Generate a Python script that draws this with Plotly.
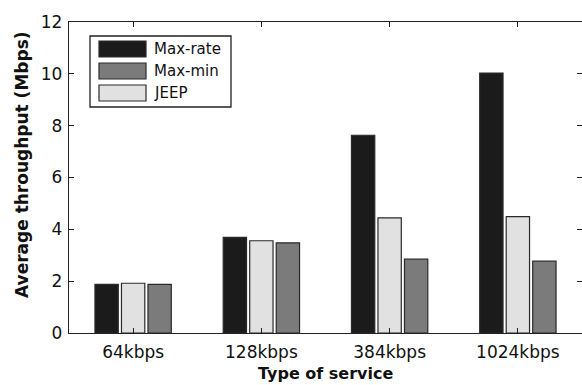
import plotly.graph_objects as go

# Average throughput per service type for each allocation scheme
services = ["64kbps", "128kbps", "384kbps", "1024kbps"]
max_rate = [1.88, 3.69, 7.63, 10.03]
jeep = [1.92, 3.56, 4.44, 4.49]
max_min = [1.88, 3.48, 2.85, 2.77]

y_ticks = [0, 2, 4, 6, 8, 10, 12]

W, H = 582, 385
ML, MR, MT, MB = 69, 0, 22, 52
FONT = "DejaVu Sans, Liberation Sans, Arial, sans-serif"
INK = "#111"

colors = {"Max-rate": "#1b1b1b", "Max-min": "#7b7b7b", "JEEP": "#e1e1e1"}
edge = dict(color="#2a2a2a", width=1.2)

fig = go.Figure()
# bars within each group: Max-rate, JEEP, Max-min
for name, vals in [("Max-rate", max_rate), ("JEEP", jeep), ("Max-min", max_min)]:
    fig.add_trace(go.Bar(x=services, y=vals, name=name,
                         marker=dict(color=colors[name], line=edge)))

# pixel -> paper coordinate helpers for the hand-drawn legend and titles
pw, ph = W - ML - MR, H - MT - MB
def px(x):
    return (x - ML) / pw
def py(y):
    return (H - MB - y) / ph

shapes = [dict(type="rect", xref="paper", yref="paper",
               x0=px(90), x1=px(231), y0=py(107), y1=py(36),
               line=dict(color="#222", width=1.3), fillcolor="white", layer="above")]
annotations = []
rows = [("Max-rate", 41, 57), ("Max-min", 63, 79), ("JEEP", 85, 101)]
for name, top, bot in rows:
    shapes.append(dict(type="rect", xref="paper", yref="paper",
                       x0=px(99), x1=px(146), y0=py(bot), y1=py(top),
                       line=edge, fillcolor=colors[name], layer="above"))
    annotations.append(dict(text=name, xref="paper", yref="paper",
                            x=px(152), y=py((top + bot) / 2), xanchor="left", yanchor="middle",
                            showarrow=False, font=dict(family=FONT, size=15, color=INK)))

# axis titles
annotations.append(dict(text="<b>Type of service</b>", xref="paper", yref="paper",
                        x=px(326), y=py(373), xanchor="center", yanchor="middle",
                        showarrow=False, font=dict(family=FONT, size=16, color=INK)))
annotations.append(dict(text="<b>Average throughput (Mbps)</b>", xref="paper", yref="paper",
                        x=px(22), y=py(165), xanchor="center", yanchor="middle",
                        textangle=-90, showarrow=False,
                        font=dict(family=FONT, size=17, color=INK)))

axis_common = dict(showline=True, linecolor="#222", linewidth=1.3, mirror="allticks",
                   ticks="inside", ticklen=5, tickcolor="#222", tickwidth=1.2,
                   showgrid=False, zeroline=False,
                   tickfont=dict(family=FONT, size=17, color=INK))

fig.update_layout(
    width=W, height=H,
    margin=dict(l=ML, r=MR, t=MT, b=MB),
    paper_bgcolor="white", plot_bgcolor="white",
    barmode="group", bargap=0.38, bargroupgap=0.12,
    showlegend=False,
    shapes=shapes, annotations=annotations,
    xaxis=dict(**axis_common, ticklabelstandoff=3),
    yaxis=dict(**axis_common, range=[0, 12], tickvals=y_ticks, ticklabelstandoff=2),
)

fig.write_html("out.html")
